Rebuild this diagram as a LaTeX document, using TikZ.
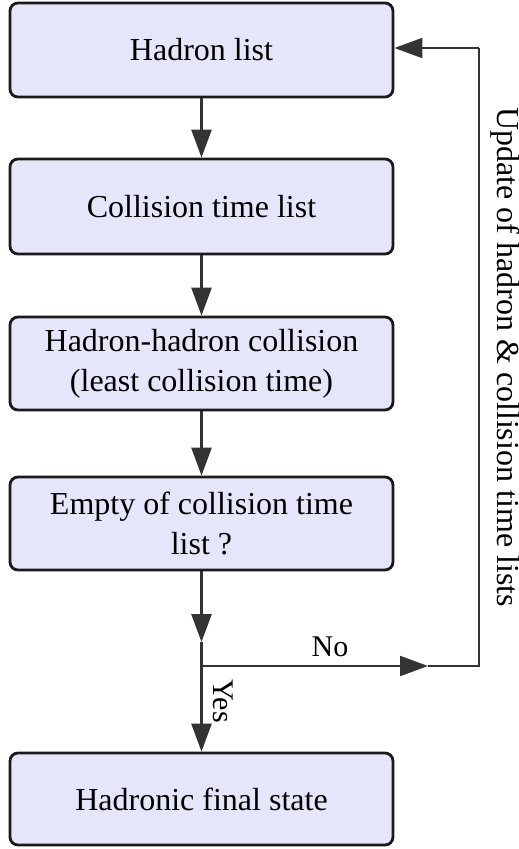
\documentclass[tikz,border=0pt]{standalone}
\usepackage{fontspec}
\setmainfont{Liberation Serif}
\usetikzlibrary{arrows.meta}
\definecolor{boxfill}{HTML}{E6E6FA}
\definecolor{boxdraw}{HTML}{1A1A1A}
\definecolor{arr}{HTML}{333333}
\tikzset{
  flowbox/.style={draw=boxdraw, fill=boxfill, line width=2.8pt, rounded corners=8pt,
    minimum width=383pt, minimum height=94pt, inner sep=0pt, align=center,
    font=\fontsize{32}{40}\selectfont},
  flowarrow/.style={draw=arr, line width=2.7pt, -{Triangle[length=28pt 0 0,width=20pt 0 0]}},
  flowline/.style={draw=arr, line width=2.7pt},
  loopline/.style={draw=arr, line width=2pt},
  looparrow/.style={draw=arr, line width=2pt, -{Triangle[length=28pt 0 0,width=20pt 0 0]}},
  lbl/.style={font=\fontsize{30}{36}\selectfont, inner sep=0pt}
}
\begin{document}
\begin{tikzpicture}[x=1pt,y=-1pt]
\useasboundingbox (0,0) rectangle (519,849);
\node[flowbox] (b1) at (201.5,50) {Hadron list};
\node[flowbox, minimum height=95pt] (b2) at (201.5,206.5) {Collision time list};
\node[flowbox, minimum height=93pt] (b3) at (201.5,363.5) {Hadron-hadron collision\\(least collision time)};
\node[flowbox, minimum height=93pt] (b4) at (201.5,523.5) {Empty of collision time\\list ?};
\node[flowbox, minimum height=92pt] (b5) at (201.5,799) {Hadronic final state};
\coordinate (m) at (201.5,642);
\coordinate (j) at (201.5,666);
\coordinate (nt) at (428,666);
\coordinate (c1) at (479,666);
\coordinate (c2) at (479,48);
\coordinate (e1) at (b1.east |- c2);
\draw[flowarrow] (b1) -- (b2);
\draw[flowarrow] (b2) -- (b3);
\draw[flowarrow] (b3) -- (b4);
\draw[flowarrow] (b4) -- (m);
\draw[flowline] (m) -- (j);
\draw[flowarrow] (j) -- (b5);
\draw[looparrow] (j) -- (nt);
\draw[loopline] (nt) -- (c1) -- (c2);
\draw[looparrow] (c2) -- (e1);
\node[lbl] (no) at (330,647) {No};
\node[lbl, rotate=-90] (yes) at (223,701) {Yes};
\node[lbl, font=\fontsize{32}{38}\selectfont, rotate=-90, anchor=base] (upd) at (497,357) {Update of hadron \& collision time lists};
\end{tikzpicture}
\end{document}
